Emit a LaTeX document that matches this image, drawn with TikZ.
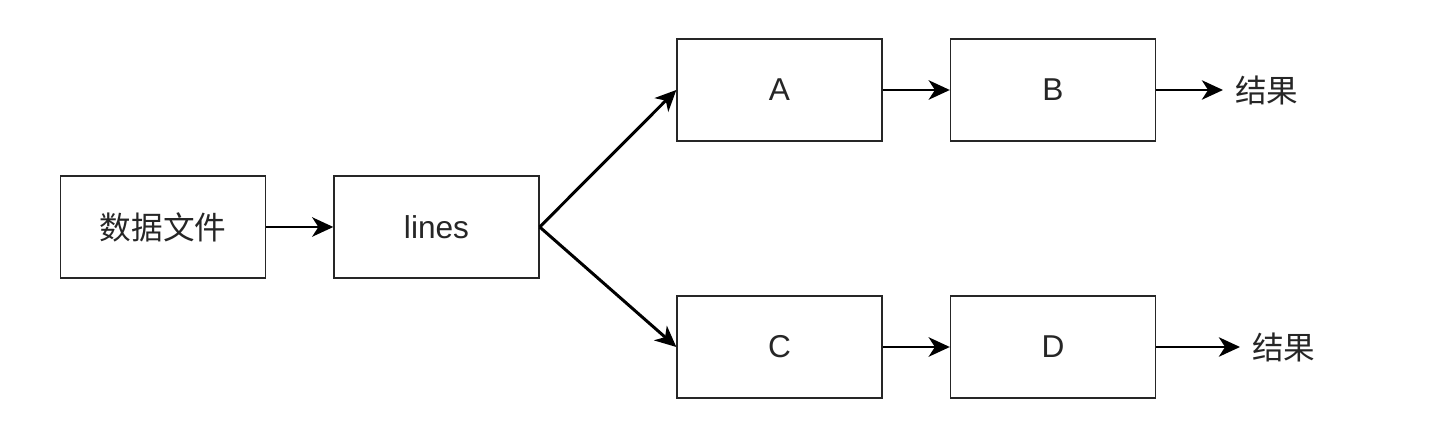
\documentclass[tikz,border=0pt]{standalone}
\usepackage{fontspec}
\setmainfont{Liberation Sans}
\newfontfamily\cjk{Noto Sans CJK SC}
\usetikzlibrary{arrows.meta}
\tikzset{
    stage/.style = {draw=black!85, line width=0.8pt, fill=white,
        minimum width=4.1cm, minimum height=2.04cm, inner sep=0pt,
        font=\fontsize{18}{21}\selectfont, text=black!85},
    result/.style = {anchor=west, inner xsep=0.24cm, inner ysep=0pt,
        font=\cjk\fontsize{18}{21}\selectfont, text=black!85},
    flow/.style = {line width=1.7pt,
        -{Stealth[length=12pt,width=11pt,inset=3.5pt]}},
}

\begin{document}
\begin{tikzpicture}[x=0.02cm,y=-0.02cm]
\useasboundingbox (0,0) rectangle (1452,428);

\node[stage] (file)  at (163,227)    {\cjk 数据文件};
\node[stage] (lines) at (436.5,227)  {lines};

\node[stage] (a) at (779.5,90)  {A};
\node[stage] (b) at (1053,90)   {B};
\node[stage] (c) at (779.5,347) {C};
\node[stage] (d) at (1053,347)  {D};

\node[result] (res-top) at (1223,90)  {结果};
\node[result] (res-bot) at (1240,347) {结果};

\draw[flow] (file) -- (lines);
\draw[flow] (lines.east) -- (a.west);
\draw[flow] (lines.east) -- (c.west);
\draw[flow] (a) -- (b);
\draw[flow] (c) -- (d);
\draw[flow] (b.east) -- (res-top.west);
\draw[flow] (d.east) -- (res-bot.west);

\end{tikzpicture}
\end{document}
